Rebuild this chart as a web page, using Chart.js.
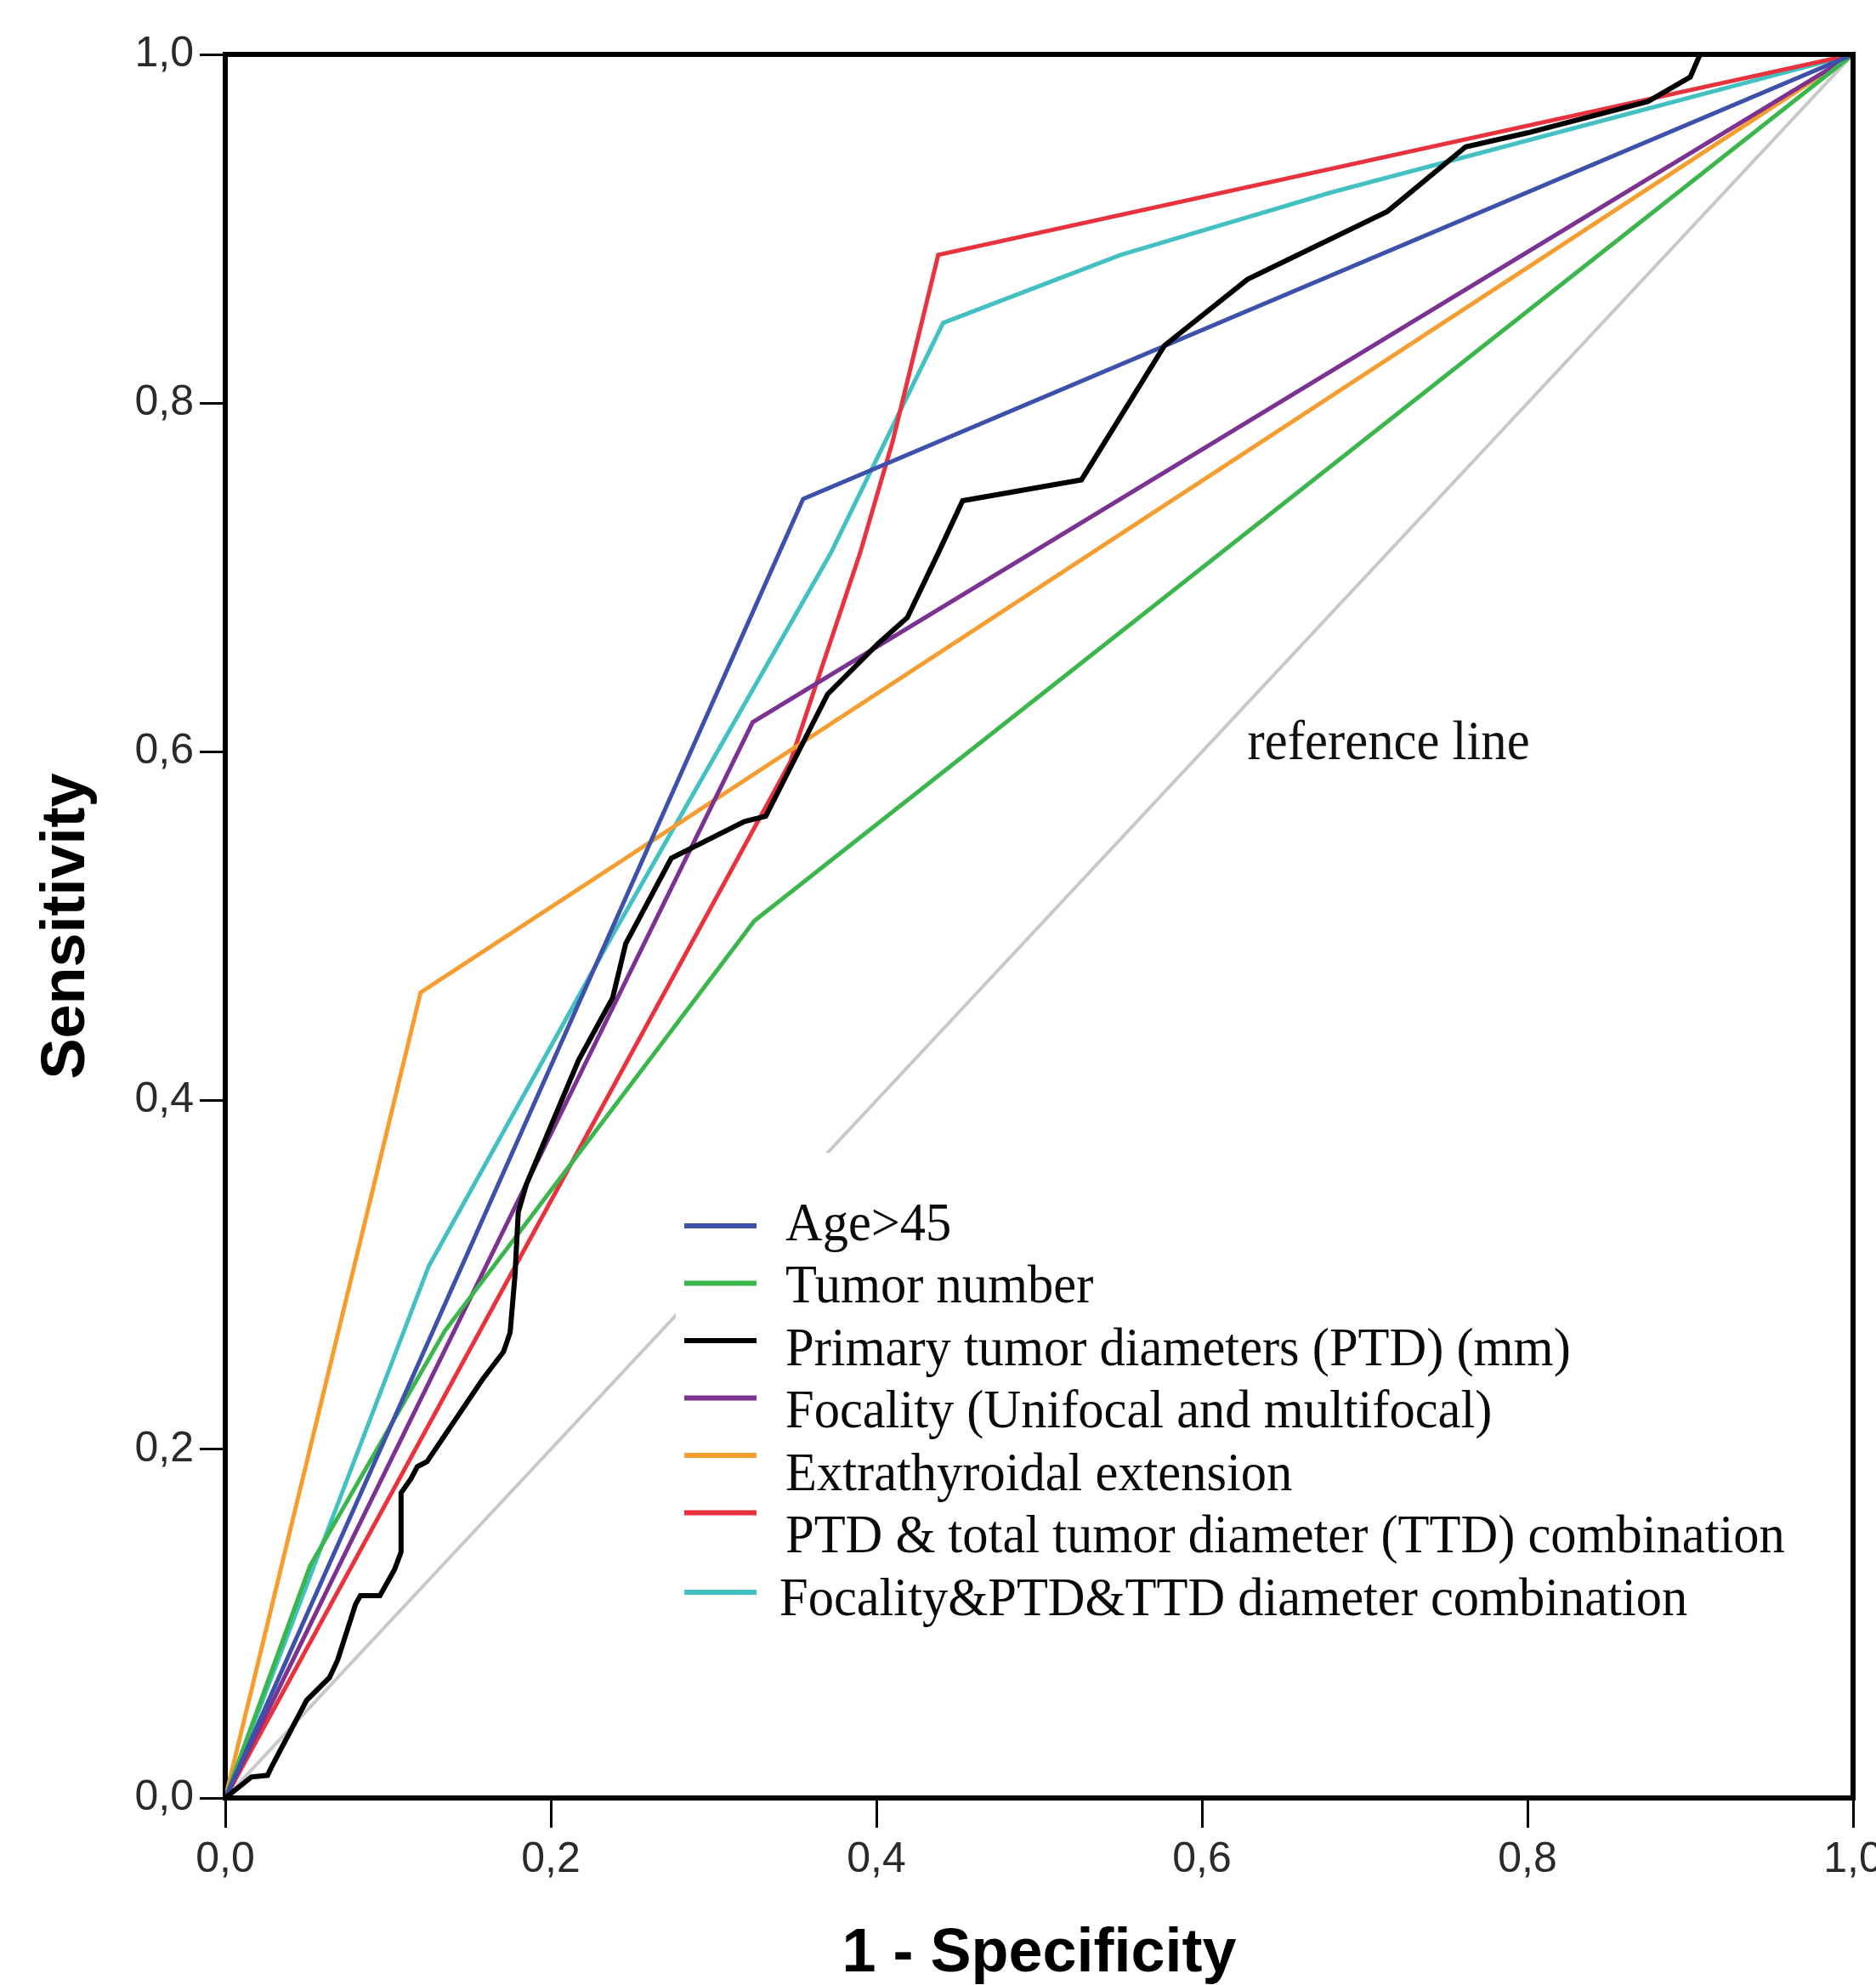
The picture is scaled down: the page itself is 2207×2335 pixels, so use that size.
<!DOCTYPE html>
<html>
<head>
<meta charset="utf-8">
<script src="https://cdn.jsdelivr.net/npm/chart.js@4.4.1/dist/chart.umd.min.js"></script>
<style>
  html, body { margin: 0; padding: 0; background: #fff; }
  #wrap { width: 2207px; height: 2335px; }
</style>
</head>
<body>
<div id="wrap"><canvas id="roc" width="2207" height="2335"></canvas></div>
<script>
// tick labels (SPSS style, decimal comma)
const tickLabels = ['0,0', '0,2', '0,4', '0,6', '0,8', '1,0'];

// legend names, in legend order
const seriesNames = [
    'Age>45',
    'Tumor number',
    'Primary tumor diameters (PTD) (mm)',
    'Focality (Unifocal and multifocal)',
    'Extrathyroidal extension',
    'PTD & total tumor diameter (TTD) combination',
    'Focality&PTD&TTD diameter combination'
];
const seriesColors = ['#3d50aa', '#3bb64c', '#000000', '#7c3290', '#f59d2e', '#e8323e', '#42c0c2'];

// ROC points: x = 1 - specificity, y = sensitivity
const ageX = [0, 0.355, 1];
const ageY = [0, 0.745, 1];

const tumorX = [0, 0.052, 0.135, 0.325, 1];
const tumorY = [0, 0.133, 0.268, 0.503, 1];

const ptdX = [0, 0.016, 0.026, 0.028, 0.050, 0.064, 0.069, 0.080, 0.083, 0.095, 0.104, 0.108, 0.108,
    0.114, 0.118, 0.124, 0.158, 0.171, 0.175, 0.178, 0.180, 0.185, 0.217, 0.238, 0.246, 0.274,
    0.319, 0.332, 0.370, 0.401, 0.419, 0.438, 0.453, 0.526, 0.577, 0.628, 0.714, 0.762, 0.800,
    0.874, 0.900, 0.906, 1];
const ptdY = [0, 0.012, 0.013, 0.017, 0.056, 0.069, 0.079, 0.111, 0.116, 0.116, 0.131, 0.141, 0.175,
    0.183, 0.190, 0.193, 0.240, 0.256, 0.267, 0.300, 0.336, 0.352, 0.423, 0.459, 0.490, 0.539,
    0.560, 0.563, 0.633, 0.662, 0.677, 0.714, 0.744, 0.756, 0.833, 0.871, 0.910, 0.947, 0.955,
    0.973, 0.987, 1, 1];

const focalityX = [0, 0.324, 1];
const focalityY = [0, 0.617, 1];

const extraX = [0, 0.120, 1];
const extraY = [0, 0.462, 1];

const ptdTtdX = [0, 0.347, 0.390, 0.410, 0.438, 1];
const ptdTtdY = [0, 0.594, 0.714, 0.778, 0.885, 1];

const focPtdTtdX = [0, 0.125, 0.238, 0.372, 0.441, 0.550, 0.680, 1];
const focPtdTtdY = [0, 0.305, 0.495, 0.714, 0.846, 0.885, 0.921, 1];

const refX = [0, 1];
const refY = [0, 1];

const seriesX = [ageX, tumorX, ptdX, focalityX, extraX, ptdTtdX, focPtdTtdX];
const seriesY = [ageY, tumorY, ptdY, focalityY, extraY, ptdTtdY, focPtdTtdY];

function toPoints(xs, ys) {
    return xs.map((x, i) => ({ x: x, y: ys[i] }));
}

const datasets = seriesNames.map((name, i) => ({
    label: name,
    data: toPoints(seriesX[i], seriesY[i]),
    borderColor: seriesColors[i],
    borderWidth: i === 2 ? 6 : 5,
    order: i === 2 ? 0 : 1
}));
datasets.push({
    label: 'reference line',
    data: toPoints(refX, refY),
    borderColor: '#c9c9c9',
    borderWidth: 4,
    order: 10
});

// frame, "reference line" label and the in-plot legend
const rocExtras = {
    id: 'rocExtras',
    afterDatasetsDraw(chart) {
        const ctx = chart.ctx;
        const a = chart.chartArea;
        const xs = chart.scales.x, ys = chart.scales.y;
        ctx.save();

        ctx.strokeStyle = '#000';
        ctx.lineWidth = 6;
        ctx.beginPath();
        ctx.moveTo(a.left - 3, a.top);
        ctx.lineTo(a.right, a.top);
        ctx.lineTo(a.right, a.bottom + 3);
        ctx.stroke();

        ctx.fillStyle = '#111';
        ctx.font = '66px "Liberation Serif"';
        ctx.textBaseline = 'alphabetic';
        ctx.save();
        ctx.translate(xs.getPixelForValue(0.628), ys.getPixelForValue(0.596));
        ctx.scale(0.92, 1);
        ctx.fillText('reference line', 0, 0);
        ctx.restore();

        // legend box (white, hides the reference line behind it)
        const boxLeft = a.left + 530, boxTop = a.top + 1292;
        ctx.fillStyle = '#fff';
        ctx.fillRect(boxLeft, boxTop, 1360, 570);

        const rowY0 = a.top + 1378;
        ctx.textBaseline = 'middle';
        ctx.font = '64px "Liberation Serif"';
        seriesNames.forEach((name, i) => {
            const textY = rowY0 + i * 73.5;
            const lineY = i < 6 ? rowY0 + i * 67.5 : textY - 10;
            ctx.strokeStyle = seriesColors[i];
            ctx.lineWidth = 6;
            ctx.beginPath();
            ctx.moveTo(a.left + 540, lineY);
            ctx.lineTo(a.left + 625, lineY);
            ctx.stroke();
            ctx.fillStyle = '#0a0a0a';
            ctx.save();
            ctx.translate(a.left + (i === 6 ? 652 : 659), textY);
            ctx.scale(0.945, 1);
            ctx.fillText(name, 0, 0);
            ctx.restore();
        });
        ctx.restore();
    }
};

const tickFont = { family: '"Liberation Sans", Arial, sans-serif', size: 50 };
const titleFont = { family: '"Liberation Sans", Arial, sans-serif', size: 72, weight: 'bold', lineHeight: 1 };

new Chart(document.getElementById('roc'), {
    type: 'line',
    data: { datasets: datasets },
    options: {
        responsive: false,
        devicePixelRatio: 1,
        animation: false,
        layout: { padding: { left: 0, top: 64, right: 27, bottom: 0 } },
        elements: {
            point: { radius: 0, hoverRadius: 0 },
            line: { tension: 0, fill: false, borderCapStyle: 'butt', borderJoinStyle: 'miter' }
        },
        plugins: {
            legend: { display: false },
            tooltip: { enabled: false }
        },
        scales: {
            x: {
                type: 'linear',
                min: 0,
                max: 1,
                ticks: {
                    stepSize: 0.2,
                    autoSkip: false,
                    maxRotation: 0,
                    padding: 8,
                    color: '#2a2a2a',
                    font: tickFont,
                    callback: (v, i) => tickLabels[i]
                },
                grid: { drawOnChartArea: false, drawTicks: true, tickLength: 35, color: '#000', lineWidth: 3 },
                border: { display: true, color: '#000', width: 6 },
                title: {
                    display: true,
                    text: '1 - Specificity',
                    color: '#000',
                    font: titleFont,
                    padding: { top: 0, bottom: 0 }
                },
                afterFit(scale) {
                    scale.height = 220;
                    scale.paddingLeft = 0;
                    scale.paddingRight = 0;
                }
            },
            y: {
                type: 'linear',
                min: 0,
                max: 1,
                ticks: {
                    stepSize: 0.2,
                    autoSkip: false,
                    padding: 7,
                    color: '#2a2a2a',
                    font: tickFont,
                    callback: (v, i) => tickLabels[i]
                },
                grid: { drawOnChartArea: false, drawTicks: true, tickLength: 30, color: '#000', lineWidth: 3 },
                border: { display: true, color: '#000', width: 6 },
                title: {
                    display: true,
                    text: 'Sensitivity',
                    color: '#000',
                    font: titleFont,
                    padding: { top: 43, bottom: 0 }
                },
                afterFit(scale) {
                    scale.width = 265;
                    scale.paddingTop = 0;
                    scale.paddingBottom = 0;
                }
            }
        }
    },
    plugins: [rocExtras]
});
</script>
</body>
</html>
